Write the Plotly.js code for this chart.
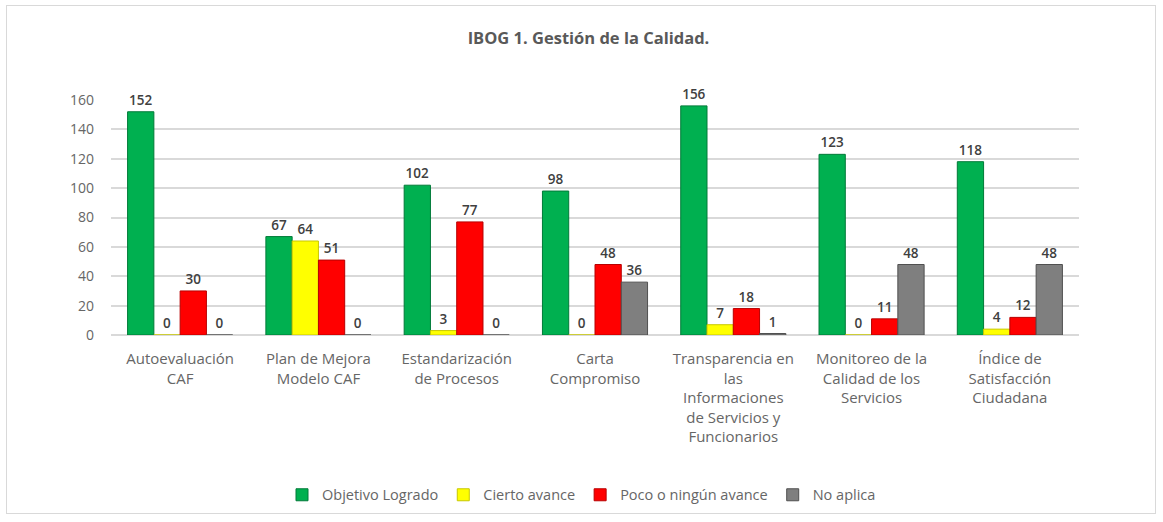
<!DOCTYPE html>
<html>
<head>
<meta charset="utf-8">
<script src="https://cdn.plot.ly/plotly-3.0.1.min.js"></script>
<style>
html,body{margin:0;padding:0;background:#fff;}
#wrap{position:relative;width:1163px;height:522px;}
#chart{width:1163px;height:522px;}
#frame{position:absolute;left:6px;top:5px;width:1148px;height:507px;border:1px solid #d9d9d9;pointer-events:none;}
</style>
</head>
<body>
<div id="wrap"><div id="chart"></div><div id="frame"></div></div>
<script>
const categories = [
  "Autoevaluación<br>CAF",
  "Plan de Mejora<br>Modelo CAF",
  "Estandarización<br>de Procesos",
  "Carta<br>Compromiso",
  "Transparencia en<br>las<br>Informaciones<br>de Servicios y<br>Funcionarios",
  "Monitoreo de la<br>Calidad de los<br>Servicios",
  "Índice de<br>Satisfacción<br>Ciudadana"
];
const seriesNames = ["Objetivo Logrado", "Cierto avance", "Poco o ningún avance", "No aplica"];
const objetivoLogrado = [152, 67, 102, 98, 156, 123, 118];
const ciertoAvance = [0, 64, 3, 0, 7, 0, 4];
const pocoAvance = [30, 51, 77, 48, 18, 11, 12];
const noAplica = [0, 0, 0, 36, 1, 48, 48];
const yTicks = [0, 20, 40, 60, 80, 100, 120, 140, 160];

const colors = ["#00B050", "#FFFF00", "#FF0000", "#7F7F7F"];
const edge = ["#007A38", "#C8C800", "#B80000", "#505050"];
const all = [objetivoLogrado, ciertoAvance, pocoAvance, noAplica];

const traces = all.map((vals, i) => ({
  type: "bar",
  name: seriesNames[i],
  x: categories,
  y: vals,
  text: vals.map(String),
  textposition: "outside",
  cliponaxis: false,
  textfont: {family: "Open Sans, Arial, sans-serif", size: 13.5, color: "#404040", weight: 600},
  marker: {color: colors[i], line: {color: edge[i], width: 1}},
  hoverinfo: "x+y+name"
}));

const layout = {
  width: 1163, height: 522,
  margin: {l: 111, r: 84, t: 100, b: 187},
  paper_bgcolor: "#ffffff",
  plot_bgcolor: "#ffffff",
  font: {family: "Open Sans, sans-serif", color: "#595959"},
  title: {
    text: "<b>IBOG 1. Gestión de la Calidad.</b>",
    xref: "container", x: 0.506, xanchor: "center",
    yref: "container", y: 0.927, yanchor: "middle",
    font: {family: "Open Sans, Arial, sans-serif", size: 16.5, color: "#595959"}
  },
  barmode: "group",
  bargap: 0.24,
  bargroupgap: 0,
  xaxis: {
    type: "category",
    tickfont: {family: "Open Sans, sans-serif", size: 15, color: "#666666"},
    showline: false, ticks: "", showgrid: false,
    ticklabelstandoff: 13
  },
  yaxis: {
    range: [0, 160],
    tickvals: yTicks,
    ticktext: yTicks.map(String),
    tickfont: {family: "Open Sans, sans-serif", size: 14, color: "#666666"},
    showgrid: true, gridcolor: "#D9D9D9", gridwidth: 1.5,
    zeroline: true, zerolinecolor: "#D9D9D9", zerolinewidth: 1.5,
    showline: false, ticks: "",
    ticklabelstandoff: 16
  },
  showlegend: true,
  legend: {
    orientation: "h",
    xref: "container", x: 0.5, xanchor: "center",
    yref: "container", y: 0.052, yanchor: "middle",
    font: {family: "Open Sans, sans-serif", size: 14.5, color: "#666666"},
    itemwidth: 30,
    traceorder: "normal"
  }
};

Plotly.newPlot("chart", traces, layout, {displayModeBar: false, responsive: false});
</script>
</body>
</html>
